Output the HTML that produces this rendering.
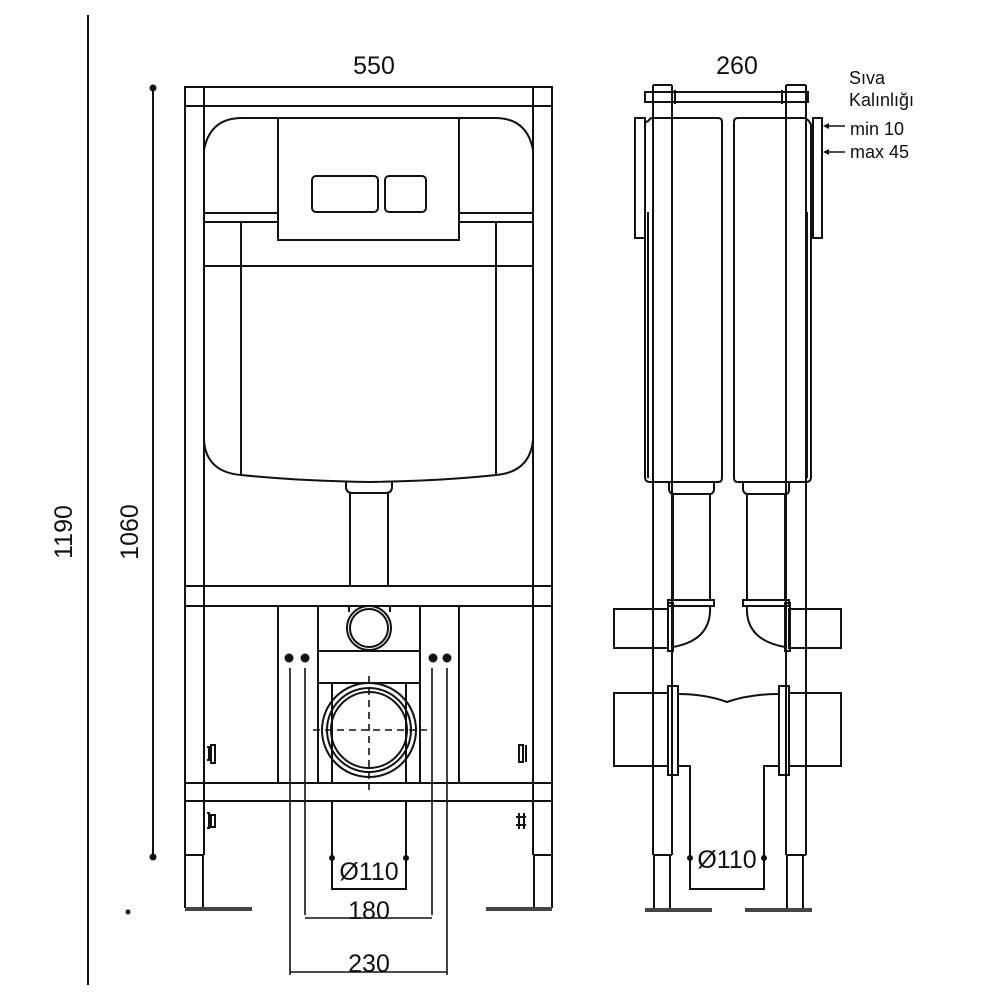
<!DOCTYPE html>
<html><head><meta charset="utf-8"><style>
html,body{margin:0;padding:0;background:#fff}
svg{display:block}
text{font-family:"Liberation Sans","DejaVu Sans",sans-serif;fill:#111}
</style></head><body>
<svg width="1000" height="1000" viewBox="0 0 1000 1000" xmlns="http://www.w3.org/2000/svg">
<g fill="none" stroke="#111" stroke-width="2">
<!-- overall dims -->
<line x1="88" y1="15" x2="88" y2="985"/>
<line x1="153" y1="87" x2="153" y2="858"/>
<circle cx="153" cy="88" r="2.5" fill="#111"/><circle cx="153" cy="857" r="2.5" fill="#111"/>
<circle cx="128" cy="912" r="1.5" fill="#111"/>

<!-- LEFT VIEW frame -->
<rect x="185" y="87" width="367" height="19"/>
<line x1="185" y1="106" x2="185" y2="908"/>
<line x1="204" y1="87" x2="204" y2="855"/>
<line x1="203" y1="855" x2="203" y2="908"/>
<line x1="185" y1="855" x2="204" y2="855"/>
<line x1="552" y1="106" x2="552" y2="908"/>
<line x1="533" y1="87" x2="533" y2="855"/>
<line x1="534" y1="855" x2="534" y2="908"/>
<line x1="533" y1="855" x2="552" y2="855"/>
<line x1="185" y1="909" x2="252" y2="909" stroke-width="4" stroke="#444"/>
<line x1="486" y1="909" x2="552" y2="909" stroke-width="4" stroke="#444"/>

<!-- cistern -->
<path d="M204 150 Q210 118 242 118 L495 118 Q527 118 533 150"/>
<path d="M204 440 Q206 472 241 475 Q300 481 370 482 Q440 481 496 475 Q530 472 533 440"/>
<rect x="278" y="118" width="181" height="122"/>
<rect x="312" y="176" width="66" height="36" rx="4"/>
<rect x="385" y="176" width="41" height="36" rx="4"/>
<line x1="204" y1="213" x2="278" y2="213"/><line x1="204" y1="222" x2="278" y2="222"/>
<line x1="459" y1="213" x2="533" y2="213"/><line x1="459" y1="222" x2="533" y2="222"/>
<line x1="241" y1="222" x2="241" y2="475"/><line x1="496" y1="222" x2="496" y2="475"/>
<line x1="204" y1="266" x2="533" y2="266"/>
<path d="M346 482 L346 488 Q347 493 352 493 L386 493 Q391 493 392 488 L392 482"/>
<line x1="350" y1="493" x2="350" y2="586"/><line x1="388" y1="493" x2="388" y2="586"/>

<!-- bars -->
<line x1="185" y1="586" x2="552" y2="586"/>
<line x1="185" y1="606" x2="552" y2="606"/>
<line x1="185" y1="783" x2="552" y2="783"/>
<line x1="185" y1="801" x2="552" y2="801"/>
<line x1="278" y1="606" x2="278" y2="783"/>
<line x1="318" y1="606" x2="318" y2="783"/>
<line x1="420" y1="606" x2="420" y2="783"/>
<line x1="459" y1="606" x2="459" y2="783"/>
<line x1="318" y1="651" x2="420" y2="651"/>
<line x1="318" y1="683" x2="420" y2="683"/>
<line x1="349" y1="606" x2="349" y2="612"/><line x1="390" y1="606" x2="390" y2="612"/>
<circle cx="369" cy="628" r="22"/><circle cx="369" cy="628" r="19"/>
<line x1="332" y1="683" x2="332" y2="783"/><line x1="406" y1="683" x2="406" y2="783"/>
<circle cx="369" cy="730" r="47"/><circle cx="369" cy="730" r="42"/><circle cx="369" cy="730" r="38"/>
<line x1="369" y1="676" x2="369" y2="790" stroke-dasharray="7 5" stroke-width="1.6"/>
<line x1="313" y1="730" x2="427" y2="730" stroke-dasharray="7 5" stroke-width="1.6"/>
<!-- side clips -->
<path d="M207 747 L209 747 L209 760 L207 760 M211 745 h4 v18 h-4 z"/>
<path d="M207 813 L209 813 L209 828 L207 828 M211 815 h4 v12 h-4 z"/>
<path d="M519 745 h4 v17 h-4 z M526 745 v17"/>
<path d="M516 817 h10 M516 825 h10 M519 813 v16 M524 813 v16"/>
<!-- Ø110 box -->
<path d="M332 801 L332 889 L406 889 L406 801"/>
<circle cx="332" cy="858" r="2" fill="#111"/><circle cx="406" cy="858" r="2" fill="#111"/>
<!-- dots & dims -->
<circle cx="289" cy="658" r="3.5" fill="#111"/><circle cx="305" cy="658" r="3.5" fill="#111"/>
<circle cx="433" cy="658" r="3.5" fill="#111"/><circle cx="447" cy="658" r="3.5" fill="#111"/>
<line x1="290" y1="668" x2="290" y2="975" stroke-width="1.6"/>
<line x1="305" y1="668" x2="305" y2="915" stroke-width="1.6"/>
<line x1="432" y1="668" x2="432" y2="915" stroke-width="1.6"/>
<line x1="447" y1="668" x2="447" y2="975" stroke-width="1.6"/>
<line x1="305" y1="918" x2="432" y2="918" stroke-width="1.6"/>
<line x1="290" y1="972" x2="447" y2="972" stroke-width="1.6"/>

<!-- RIGHT VIEW -->
<rect x="645" y="92" width="163" height="10"/>
<line x1="653" y1="85" x2="672" y2="85"/><line x1="786" y1="85" x2="806" y2="85"/>
<line x1="653" y1="85" x2="653" y2="855"/><line x1="672" y1="85" x2="672" y2="855"/>
<line x1="653" y1="855" x2="672" y2="855"/>
<line x1="654" y1="855" x2="654" y2="909"/><line x1="670" y1="855" x2="670" y2="909"/>
<line x1="786" y1="85" x2="786" y2="855"/><line x1="806" y1="85" x2="806" y2="855"/>
<line x1="786" y1="855" x2="806" y2="855"/>
<line x1="787" y1="855" x2="787" y2="909"/><line x1="803" y1="855" x2="803" y2="909"/>
<line x1="645" y1="910" x2="712" y2="910" stroke-width="4" stroke="#444"/>
<line x1="745" y1="910" x2="812" y2="910" stroke-width="4" stroke="#444"/>
<line x1="675" y1="90" x2="675" y2="104"/><line x1="782" y1="90" x2="782" y2="104"/>
<!-- panels -->
<rect x="635" y="118" width="10" height="120"/>
<rect x="813" y="118" width="9" height="120"/>
<path d="M649 121 Q649 118 653 118 L718 118 Q722 118 722 122 L722 478 Q722 482 718 482 L650 482 Q645 482 645 477 L645 125 Q645 121 649 121"/>
<path d="M738 118 L805 118 Q810 121 811 125 L811 477 Q811 482 806 482 L738 482 Q734 482 734 478 L734 122 Q734 118 738 118"/>
<line x1="648" y1="212" x2="648" y2="478"/><line x1="807" y1="212" x2="807" y2="478"/>
<path d="M669 482 L669 490 Q670 494 674 494 L710 494 Q713 494 714 490 L714 482"/>
<path d="M743 482 L743 490 Q744 494 748 494 L785 494 Q789 494 789 490 L789 482"/>
<line x1="673" y1="494" x2="673" y2="600"/><line x1="710" y1="494" x2="710" y2="600"/>
<line x1="747" y1="494" x2="747" y2="600"/><line x1="785" y1="494" x2="785" y2="600"/>
<rect x="668" y="600" width="46" height="6"/>
<rect x="743" y="600" width="46" height="6"/>
<path d="M710 606 Q712 640 673 647"/>
<path d="M747 606 Q745 640 785 647"/>
<rect x="614" y="609" width="54" height="39"/>
<rect x="789" y="609" width="52" height="39"/>
<rect x="668" y="603" width="5" height="48"/>
<rect x="785" y="603" width="5" height="48"/>
<rect x="614" y="693" width="54" height="73"/>
<rect x="789" y="693" width="52" height="73"/>
<rect x="668" y="686" width="10" height="89"/>
<rect x="779" y="686" width="10" height="89"/>
<path d="M678 694 Q705 694 727 702 Q750 694 779 694"/>
<path d="M678 766 L690 766 L690 889 L764 889 L764 766 L779 766"/>
<circle cx="690" cy="858" r="2" fill="#111"/><circle cx="764" cy="858" r="2" fill="#111"/>
<line x1="845" y1="126" x2="826" y2="126" stroke-width="1.4"/>
<line x1="845" y1="152" x2="826" y2="152" stroke-width="1.4"/>
</g>
<path d="M823 126 l6 -3 v6 z M823 152 l6 -3 v6 z" fill="#111"/>
<g font-size="25">
<text x="374" y="74" text-anchor="middle">550</text>
<text x="737" y="74" text-anchor="middle">260</text>
<text x="369" y="880" text-anchor="middle">Ø110</text>
<text x="727" y="868" text-anchor="middle">Ø110</text>
<text x="369" y="919" text-anchor="middle">180</text>
<text x="369" y="972" text-anchor="middle">230</text>
<text transform="translate(72 532) rotate(-90)" text-anchor="middle">1190</text>
<text transform="translate(138 532) rotate(-90)" text-anchor="middle">1060</text>
</g>
<g font-size="18">
<text x="849" y="84">Sıva</text>
<text x="849" y="106">Kalınlığı</text>
<text x="850" y="135">min 10</text>
<text x="850" y="158">max 45</text>
</g>
</svg>
</body></html>
